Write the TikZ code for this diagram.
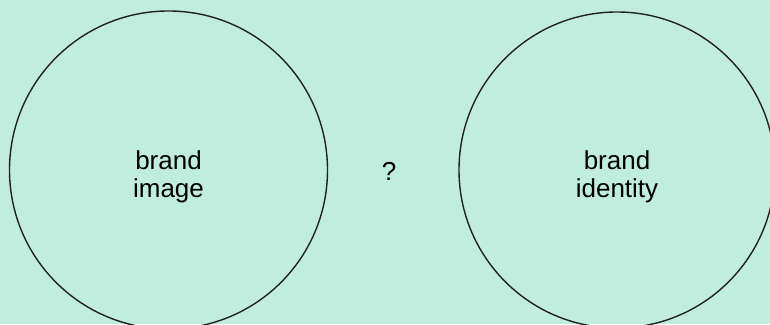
\documentclass[tikz,border=0pt]{standalone}
\usepackage{fontspec}
\setmainfont{Liberation Sans}
\definecolor{bgmint}{HTML}{C1EDDF}
\definecolor{linegray}{HTML}{222222}
\begin{document}
\begin{tikzpicture}[x=1pt,y=1pt,
  ring/.style={circle, draw=linegray, line width=1.4pt, inner sep=0pt},
  lbl/.style={anchor=base, inner sep=0pt, text=black, font=\fontsize{26}{28}\selectfont}]
\fill[bgmint] (0,0) rectangle (770,324);
\useasboundingbox (0,0) rectangle (770,324);
\begin{scope}
\clip (0,0) rectangle (770,324);
\node[ring, minimum size=318pt] (left) at (168.5,154) {};
\node[ring, minimum size=316pt] (right) at (617,154) {};
\end{scope}
\node[lbl] (l1) at (168.5,154) {brand};
\node[lbl] (l2) at (168.5,126) {image};
\node[lbl] (q) at (389,143) {?};
\node[lbl] (r1) at (617,154) {brand};
\node[lbl] (r2) at (617,126) {identity};
\end{tikzpicture}
\end{document}
